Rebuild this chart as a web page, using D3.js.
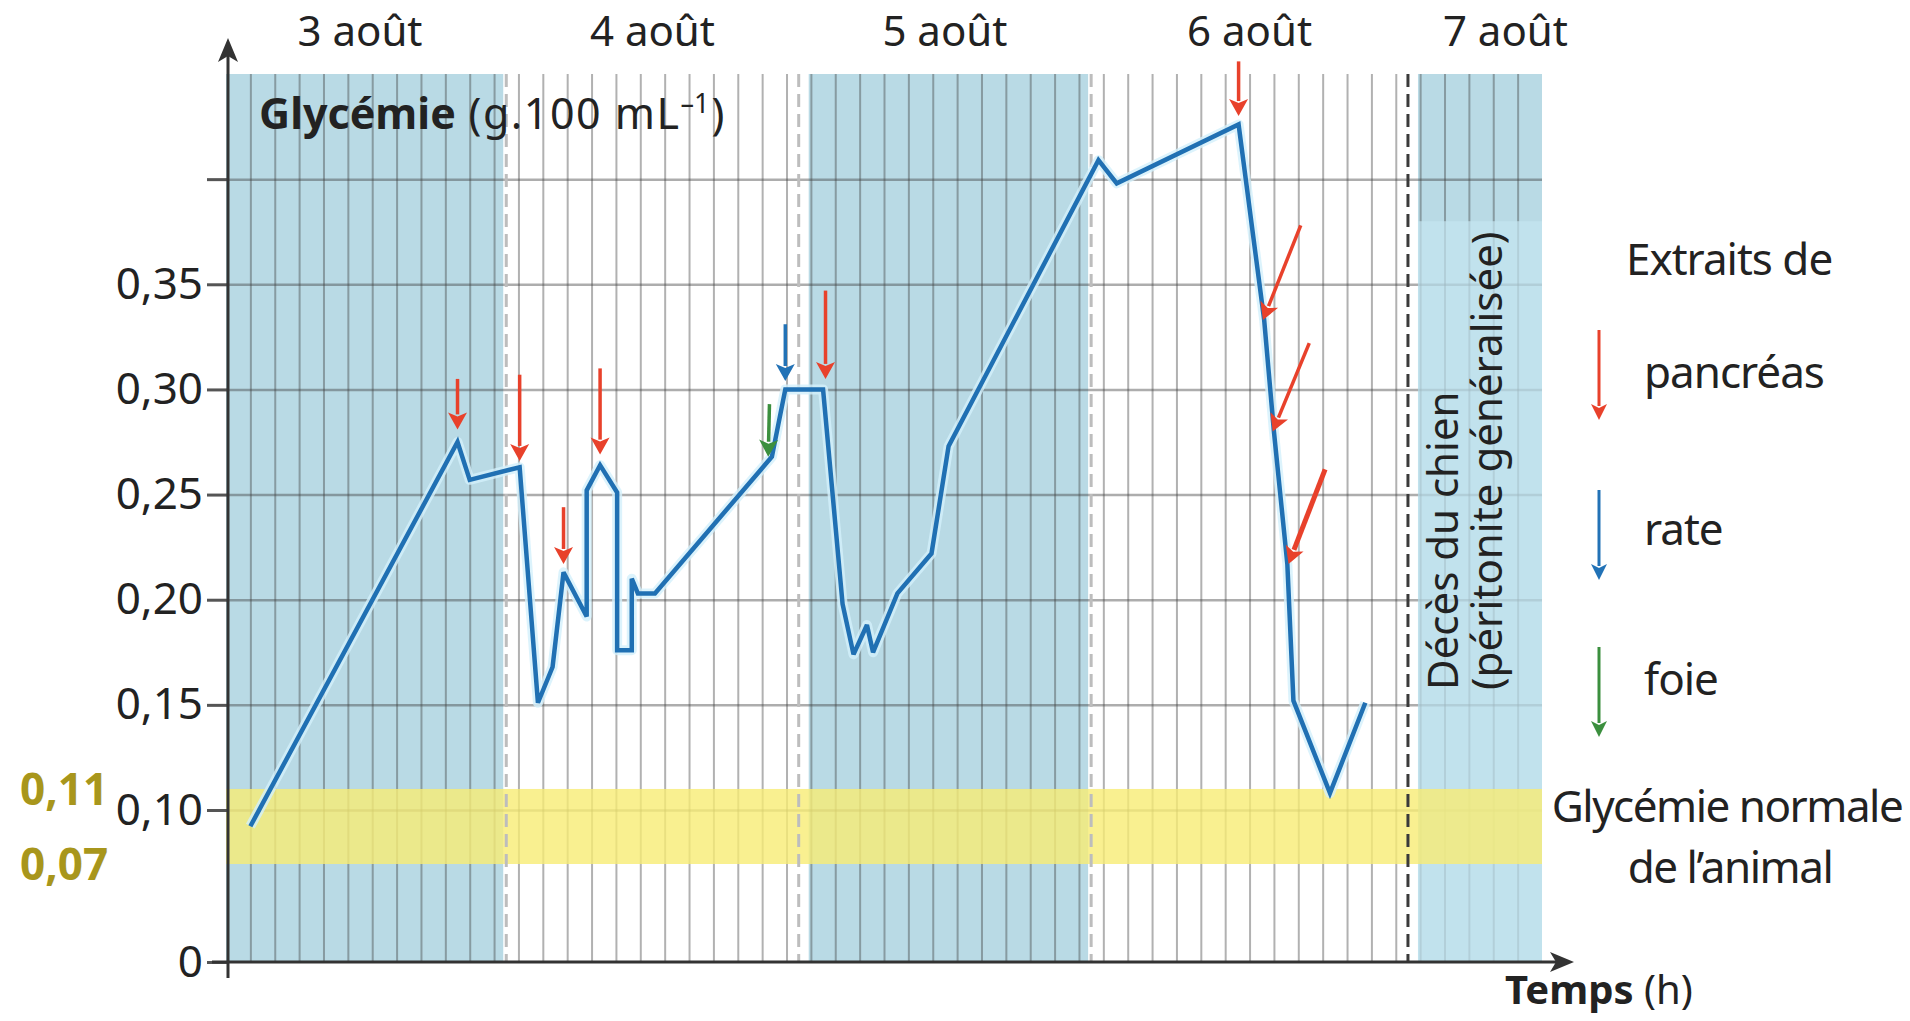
<!DOCTYPE html>
<html lang="fr">
<head>
<meta charset="utf-8">
<title>Glycémie du chien</title>
<script src="https://cdn.jsdelivr.net/npm/d3@7"></script>
<style>
  body { margin: 0; background: #fff; }
  svg { display: block; font-family: 'Noto Sans', 'Open Sans', sans-serif; }
</style>
</head>
<body>
<div id="graphe"></div>
<script>
// ---- Données lues sur le document ----
// temps en heures depuis l'origine de l'axe, glycémie en g.100 mL-1
const heures = [2, 19, 20, 24.1, 25.6, 26.8, 27.7, 29.6, 29.6, 30.7, 32.1, 32.1, 33.3, 33.3, 33.8,
  35.2, 44.8, 45.9, 49.0, 50.6, 51.5, 52.6, 53.1, 55.1, 57.9, 59.3, 71.6, 73.1, 83.1,
  85.2, 86.0, 87.1, 87.6, 90.6, 93.5];
const glycemie = [0.091, 0.275, 0.257, 0.263, 0.151, 0.168, 0.213, 0.192, 0.252, 0.264, 0.251, 0.176, 0.176, 0.210, 0.203,
  0.203, 0.268, 0.300, 0.300, 0.198, 0.174, 0.188, 0.175, 0.203, 0.222, 0.273, 0.409, 0.398, 0.426,
  0.333, 0.280, 0.217, 0.152, 0.108, 0.151];

// jours
const jours = ['3 août', '4 août', '5 août', '6 août', '7 août'];
const centresJours = [11, 35, 59, 84, 105];
const limitesJours = [23, 47, 71, 97];
const nuits = [[0, 23], [47, 71], [97, 108]];

// glycémie normale
const normaleMin = 0.07;
const normaleMax = 0.11;

// graduations
const ticksY = [0, 0.10, 0.15, 0.20, 0.25, 0.30, 0.35, 0.40];
const lignesH = [0.10, 0.15, 0.20, 0.25, 0.30, 0.35, 0.40];
const lignesV = d3.range(2, 108, 2);

// injections d'extraits (queue -> pointe de la flèche)
const flecheOrgane = ['pancréas', 'pancréas', 'pancréas', 'pancréas', 'foie', 'rate', 'pancréas',
  'pancréas', 'pancréas', 'pancréas', 'pancréas'];
const flecheH0 = [19.0, 24.1, 27.7, 30.7, 44.6, 45.9, 49.2, 83.1, 88.2, 88.9, 90.2];
const flecheV0 = [0.305, 0.307, 0.244, 0.310, 0.293, 0.331, 0.347, 0.456, 0.378, 0.322, 0.262];
const flecheH1 = [19.0, 24.1, 27.7, 30.7, 44.5, 45.9, 49.2, 83.1, 85.1, 85.9, 87.2];
const flecheV1 = [0.281, 0.266, 0.217, 0.269, 0.268, 0.304, 0.305, 0.430, 0.333, 0.280, 0.217];

const organes = ['pancréas', 'rate', 'foie'];

// ---- Styles ----
const couleurs = { 'pancréas': '#e8412b', 'rate': '#2272b6', 'foie': '#3b8f3e' };
const bleuNuit = '#b9dae5';
const couleurCourbe = '#2070b3';
const encre = '#222';

const largeur = 1910, hauteur = 1021;

const svg = d3.select('#graphe').append('svg')
  .attr('width', largeur)
  .attr('height', hauteur);

// échelles (axe des ordonnées coupé entre 0 et 0,10)
const echelleX = d3.scaleLinear().domain([0, 108]).range([226, 1542]);
const echelleY = d3.scaleLinear().domain([0, 0.07, 0.10, 0.45]).range([962, 864, 810, 74]);

const haut = echelleY(0.45);
const bas = echelleY(0);
const gauche = echelleX(0);
const droite = echelleX(108);

// bandes bleues
svg.append('g').selectAll('rect')
  .data(nuits)
  .join('rect')
    .attr('x', d => echelleX(d[0]))
    .attr('width', d => echelleX(d[1]) - echelleX(d[0]))
    .attr('y', haut)
    .attr('height', bas - haut)
    .attr('fill', bleuNuit);

// bandes blanches aux changements de jour
svg.append('g').selectAll('rect')
  .data(limitesJours)
  .join('rect')
    .attr('x', d => echelleX(d) - 3)
    .attr('width', 13)
    .attr('y', haut)
    .attr('height', bas - haut)
    .attr('fill', '#fff');

// quadrillage vertical (toutes les 2 h)
svg.append('g')
  .attr('transform', `translate(0,${bas})`)
  .call(d3.axisBottom(echelleX).tickValues(lignesV).tickSize(-(bas - haut)).tickFormat(''))
  .call(g => g.select('.domain').remove())
  .selectAll('line')
    .attr('stroke', '#3c3c3c')
    .attr('stroke-opacity', 0.4)
    .attr('stroke-width', 2);

// quadrillage horizontal
svg.append('g')
  .attr('transform', `translate(${gauche},0)`)
  .call(d3.axisRight(echelleY).tickValues(lignesH).tickSize(droite - gauche).tickFormat(''))
  .call(g => g.select('.domain').remove())
  .selectAll('line')
    .attr('stroke', '#3c3c3c')
    .attr('stroke-opacity', 0.42)
    .attr('stroke-width', 2.5);

// cadre du décès
svg.append('rect')
  .attr('x', echelleX(97) + 10)
  .attr('width', droite - echelleX(97) - 10)
  .attr('y', echelleY(0.38))
  .attr('height', bas - echelleY(0.38))
  .attr('fill', '#c4e6f1')
  .attr('opacity', 0.7);

// glycémie normale
svg.append('rect')
  .attr('x', gauche)
  .attr('width', droite - gauche)
  .attr('y', echelleY(normaleMax))
  .attr('height', echelleY(normaleMin) - echelleY(normaleMax))
  .attr('fill', '#f8ec74')
  .attr('opacity', 0.8);

// changements de jour (pointillés)
svg.append('g').selectAll('line')
  .data(limitesJours)
  .join('line')
    .attr('x1', d => echelleX(d))
    .attr('x2', d => echelleX(d))
    .attr('y1', haut)
    .attr('y2', bas)
    .attr('stroke', (d, i) => i === limitesJours.length - 1 ? '#3a3a3a' : '#bdbdbd')
    .attr('stroke-width', 3)
    .attr('stroke-dasharray', '13 7');

// axe vertical
const axeY = svg.append('g')
  .attr('transform', `translate(${gauche + 2},0)`)
  .call(d3.axisLeft(echelleY)
    .tickValues(ticksY)
    .tickSize(21)
    .tickPadding(4)
    .tickFormat(d => d === 0 ? '0' : d >= 0.4 ? '' : d3.format('.2f')(d).replace('.', ',')))
  .call(g => g.select('.domain').remove());
axeY.selectAll('line').attr('stroke', '#555').attr('stroke-width', 3);
axeY.selectAll('text').attr('font-size', 44).attr('fill', encre).attr('font-family', "'Noto Sans', sans-serif");

const axes = svg.append('g').attr('stroke', '#333').attr('fill', '#333');
axes.append('line')
  .attr('x1', gauche + 2).attr('x2', gauche + 2)
  .attr('y1', bas + 16).attr('y2', 56)
  .attr('stroke-width', 3);
axes.append('path')
  .attr('d', `M${gauche + 2},38 l-10,24 l10,-6 l10,6 Z`)
  .attr('stroke', 'none');
axes.append('line')
  .attr('x1', gauche - 14).attr('x2', droite + 14)
  .attr('y1', bas).attr('y2', bas)
  .attr('stroke-width', 3);
axes.append('path')
  .attr('d', `M${droite + 32},${bas} l-24,-10 l6,10 l-6,10 Z`)
  .attr('stroke', 'none');

// courbe de glycémie
const donnees = heures.map((h, i) => ({ h: h, v: glycemie[i] }));
const ligne = d3.line().x(d => echelleX(d.h)).y(d => echelleY(d.v));

svg.append('path')
  .datum(donnees)
  .attr('d', ligne)
  .attr('fill', 'none')
  .attr('stroke', '#d3f0fb')
  .attr('stroke-opacity', 0.8)
  .attr('stroke-width', 10)
  .attr('stroke-linejoin', 'round');
svg.append('path')
  .datum(donnees)
  .attr('d', ligne)
  .attr('fill', 'none')
  .attr('stroke', couleurCourbe)
  .attr('stroke-width', 4.5)
  .attr('stroke-linejoin', 'miter')
  .attr('stroke-miterlimit', 3);

// flèche : tige + tête triangulaire
function dessinerFleche(g, x0, y0, x1, y1, couleur, epaisseur, longTete, largTete) {
  const dx = x1 - x0, dy = y1 - y0;
  const l = Math.hypot(dx, dy);
  const ux = dx / l, uy = dy / l;
  const bx = x1 - ux * longTete, by = y1 - uy * longTete;
  g.append('line')
    .attr('x1', x0).attr('y1', y0)
    .attr('x2', bx + ux * 2).attr('y2', by + uy * 2)
    .attr('stroke', couleur)
    .attr('stroke-width', epaisseur);
  g.append('path')
    .attr('d', `M${x1},${y1} L${bx - uy * largTete / 2},${by + ux * largTete / 2} L${bx + ux * 4},${by + uy * 4} L${bx + uy * largTete / 2},${by - ux * largTete / 2} Z`)
    .attr('fill', couleur);
}

const fleches = svg.append('g');
flecheOrgane.forEach((o, i) => {
  const epais = i === flecheOrgane.length - 1 ? 5 : 3.5;
  dessinerFleche(fleches,
    echelleX(flecheH0[i]), echelleY(flecheV0[i]),
    echelleX(flecheH1[i]), echelleY(flecheV1[i]),
    couleurs[o], epais, 17, 19);
});

// ---- Textes ----
svg.append('g').selectAll('text')
  .data(jours)
  .join('text')
    .attr('x', (d, i) => echelleX(centresJours[i]))
    .attr('y', 46)
    .attr('text-anchor', 'middle')
    .attr('font-size', 42)
    .attr('fill', encre)
    .text(d => d);

const titre = svg.append('text')
  .attr('x', 259)
  .attr('y', 129)
  .attr('font-size', 43)
  .attr('fill', encre);
titre.append('tspan').attr('font-weight', 'bold').text('Glycémie');
titre.append('tspan').attr('letter-spacing', 1.5).text(' (g.100 mL');
titre.append('tspan').attr('font-size', 27).attr('dy', -16).text('–1');
titre.append('tspan').attr('dy', 16).attr('dx', 2).text(')');

// bornes de la glycémie normale
svg.append('g').selectAll('text')
  .data([normaleMax, normaleMin])
  .join('text')
    .attr('x', 20)
    .attr('y', d => echelleY(d))
    .attr('dy', '0.36em')
    .attr('font-size', 44)
    .attr('font-weight', 'bold')
    .attr('fill', '#a8961c')
    .text(d => d3.format('.2f')(d).replace('.', ','));

// décès
svg.append('text')
  .attr('transform', 'translate(1458,690) rotate(-90)')
  .attr('font-size', 42)
  .attr('fill', encre)
  .text('Décès du chien');
svg.append('text')
  .attr('transform', 'translate(1502,690) rotate(-90)')
  .attr('font-size', 42)
  .attr('fill', encre)
  .text('(péritonite généralisée)');

// légende
const legende = svg.append('g').attr('fill', encre).attr('font-size', 44).attr('letter-spacing', -1);
legende.append('text').attr('x', 1626).attr('y', 275).text('Extraits de');
const yLegende = { 'pancréas': 330, 'rate': 490, 'foie': 647 };
const yTexte = { 'pancréas': 388, 'rate': 545, 'foie': 695 };
organes.forEach(o => {
  dessinerFleche(legende, 1599, yLegende[o], 1599, yLegende[o] + 90, couleurs[o], 3, 16, 16);
  legende.append('text').attr('x', 1644).attr('y', yTexte[o]).text(o);
});

const normale = svg.append('g')
  .attr('fill', encre)
  .attr('font-size', 44)
  .attr('letter-spacing', -1.5)
  .attr('text-anchor', 'middle');
normale.append('text').attr('x', 1727).attr('y', 822).text('Glycémie normale');
normale.append('text').attr('x', 1730).attr('y', 883).text('de l’animal');

const temps = svg.append('text')
  .attr('x', 1505)
  .attr('y', 1004)
  .attr('font-size', 40)
  .attr('fill', encre);
temps.append('tspan').attr('font-weight', 'bold').text('Temps');
temps.append('tspan').text(' (h)');
</script>
</body>
</html>
